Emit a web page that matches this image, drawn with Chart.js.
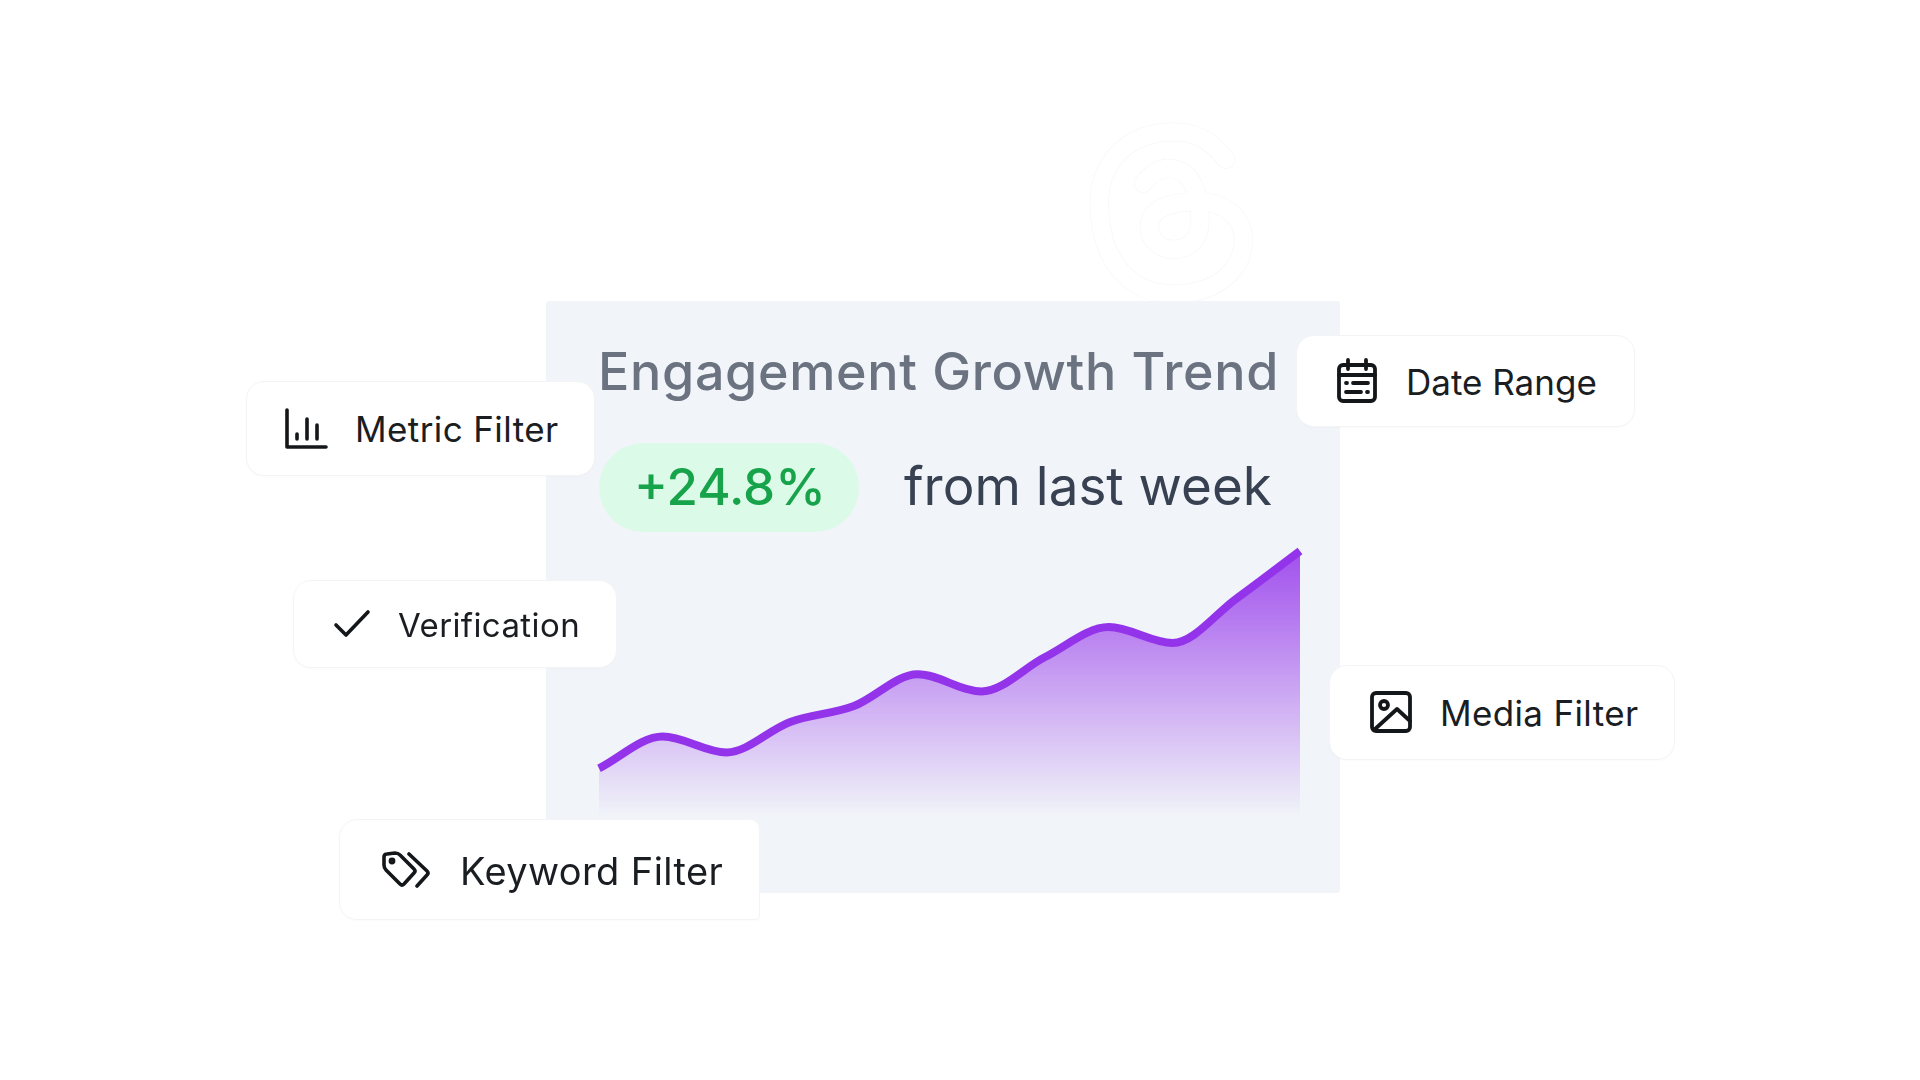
<!DOCTYPE html>
<html>
<head>
<meta charset="utf-8">
<title>Engagement Growth Trend</title>
<script src="https://cdn.jsdelivr.net/npm/chart.js@4/dist/chart.umd.min.js"></script>
<style>
    html, body { margin: 0; padding: 0; width: 1920px; height: 1080px; overflow: hidden; background: #fff; font-family: Inter, sans-serif; }
    .logo { position: absolute; left: 1060px; top: 100px; width: 240px; height: 220px; }
    .panel { position: absolute; left: 546px; top: 301px; width: 794px; height: 592px; background: #f1f4f9; border-radius: 3px; }
    .abs { position: absolute; white-space: nowrap; line-height: 1; }
    .title { left: 598px; top: 346px; font-size: 52px; font-weight: 500; color: #6b7280; letter-spacing: 0.68px; }
    .pill { position: absolute; left: 599px; top: 443px; width: 260px; height: 89px; border-radius: 45px; background: #dcfae8; }
    .change { left: 634px; top: 461px; font-size: 51px; font-weight: 500; color: #16a34a; }
    .note { left: 904px; top: 460px; font-size: 53px; color: #374151; }
    .chart-box { position: absolute; left: 579px; top: 531px; width: 741px; height: 305px; }
    .card { position: absolute; box-sizing: border-box; background: #fff; border: 1px solid #f3f4f6; border-radius: 18px; box-shadow: 0 1px 2px rgba(0, 0, 0, 0.02); }
    .card-text { color: #1a1d21; }
    .icon { position: absolute; fill: none; stroke: #14171a; stroke-linecap: round; stroke-linejoin: round; }
</style>
</head>
<body>
<svg class="logo" viewBox="0 0 720 660">
    <path d="M497 178 C450 115 400 95 340 96 C200 96 118 190 118 310 C118 470 200 582 340 582 C470 582 550 510 550 420 C550 350 490 305 420 305 C340 305 268 320 268 380 C268 420 300 448 340 448 C390 448 420 415 420 360 C420 270 390 205 325 205 C295 205 270 225 250 250" fill="none" stroke="#f7f7f7" stroke-width="57" stroke-linecap="round"/>
    <path d="M497 178 C450 115 400 95 340 96 C200 96 118 190 118 310 C118 470 200 582 340 582 C470 582 550 510 550 420 C550 350 490 305 420 305 C340 305 268 320 268 380 C268 420 300 448 340 448 C390 448 420 415 420 360 C420 270 390 205 325 205 C295 205 270 225 250 250" fill="none" stroke="#ffffff" stroke-width="53" stroke-linecap="round"/>
</svg>

<div class="panel"></div>
<div class="abs title">Engagement Growth Trend</div>
<div class="pill"></div>
<div class="abs change">+24.8%</div>
<div class="abs note">from last week</div>
<div class="chart-box"><canvas id="trend"></canvas></div>

<div class="card" style="left:246px;top:381px;width:349px;height:95px"></div>
<svg class="icon" style="left:284px;top:408px;width:44px;height:42px" viewBox="0 0 44 42" stroke-width="3.6">
    <path d="M3 2 V39 H42"/><path d="M13 26 V31"/><path d="M23 11 V31"/><path d="M33 17 V31"/>
</svg>
<div class="abs card-text" style="left:355px;top:412px;font-size:35px;letter-spacing:.4px">Metric Filter</div>

<div class="card" style="left:293px;top:580px;width:324px;height:88px"></div>
<svg class="icon" style="left:333px;top:609px;width:38px;height:29px" viewBox="0 0 38 29" stroke-width="3.6">
    <path d="M3 16 L13 26 L35 3"/>
</svg>
<div class="abs card-text" style="left:398px;top:609px;font-size:33px;letter-spacing:.4px">Verification</div>

<div class="card" style="left:339px;top:819px;width:421px;height:101px;border-top-right-radius:10px;border-bottom-right-radius:4px"></div>
<svg class="icon" style="left:381px;top:851px;width:52px;height:37px" viewBox="0 0 52 37" stroke-width="3.6">
    <path d="M3 6 Q3 3 6 3 L14 2 Q17 2 19 4 L33 18 Q35 20 33 22 L23 33 Q21 35 19 33 L5 19 Q3 17 3 14 Z"/>
    <circle cx="11" cy="10" r="1.6"/>
    <path d="M28 3 L46 20 Q48 22 46 24 L36 35"/>
</svg>
<div class="abs card-text" style="left:460px;top:852px;font-size:38px;letter-spacing:.4px">Keyword Filter</div>

<div class="card" style="left:1296px;top:335px;width:339px;height:92px"></div>
<svg class="icon" style="left:1336px;top:358px;width:42px;height:46px" viewBox="0 0 42 46" stroke-width="3.8">
    <rect x="3" y="7" width="36" height="36" rx="4"/>
    <path d="M12 2 V11"/><path d="M30 2 V11"/><path d="M3 17 H39"/>
    <path d="M10 25 H11"/><path d="M17 25 H32"/><path d="M10 34 H25"/><path d="M31 34 H32"/>
</svg>
<div class="abs card-text" style="left:1406px;top:365px;font-size:35px">Date Range</div>

<div class="card" style="left:1329px;top:665px;width:346px;height:95px"></div>
<svg class="icon" style="left:1369px;top:690px;width:44px;height:44px" viewBox="0 0 44 44" stroke-width="3.8">
    <rect x="3" y="3" width="38" height="38" rx="4"/>
    <circle cx="15" cy="15" r="4"/>
    <path d="M5 40 L28 19 L41 31"/>
</svg>
<div class="abs card-text" style="left:1440px;top:696px;font-size:35px;letter-spacing:.35px">Media Filter</div>

<script>
    const categories = ["1", "2", "3", "4", "5", "6", "7", "8", "9", "10", "11", "12"];
    const engagement = [18, 30, 24, 35.5, 41.5, 53.5, 47, 60, 71.3, 65.3, 82, 100];
    const yMin = 0;
    const yMax = 100;

    function areaGradient(context) {
        const area = context.chart.chartArea;
        if (!area) {
            return "rgba(147, 51, 234, 0.5)";
        }
        const gradient = context.chart.ctx.createLinearGradient(0, area.top, 0, area.bottom);
        gradient.addColorStop(0, "rgba(147, 51, 234, 0.85)");
        gradient.addColorStop(1, "rgba(147, 51, 234, 0)");
        return gradient;
    }

    new Chart(document.getElementById("trend"), {
        type: "line",
        data: {
            labels: categories,
            datasets: [{
                data: engagement,
                borderColor: "#9333ea",
                borderWidth: 8,
                backgroundColor: areaGradient,
                fill: "origin",
                cubicInterpolationMode: "monotone",
                pointRadius: 0,
                clip: false
            }]
        },
        options: {
            responsive: true,
            maintainAspectRatio: false,
            animation: false,
            layout: { padding: 20 },
            plugins: { legend: { display: false }, title: { display: false }, tooltip: { enabled: false } },
            scales: {
                x: { display: false, offset: false },
                y: { display: false, min: yMin, max: yMax }
            }
        }
    });
</script>
</body>
</html>
